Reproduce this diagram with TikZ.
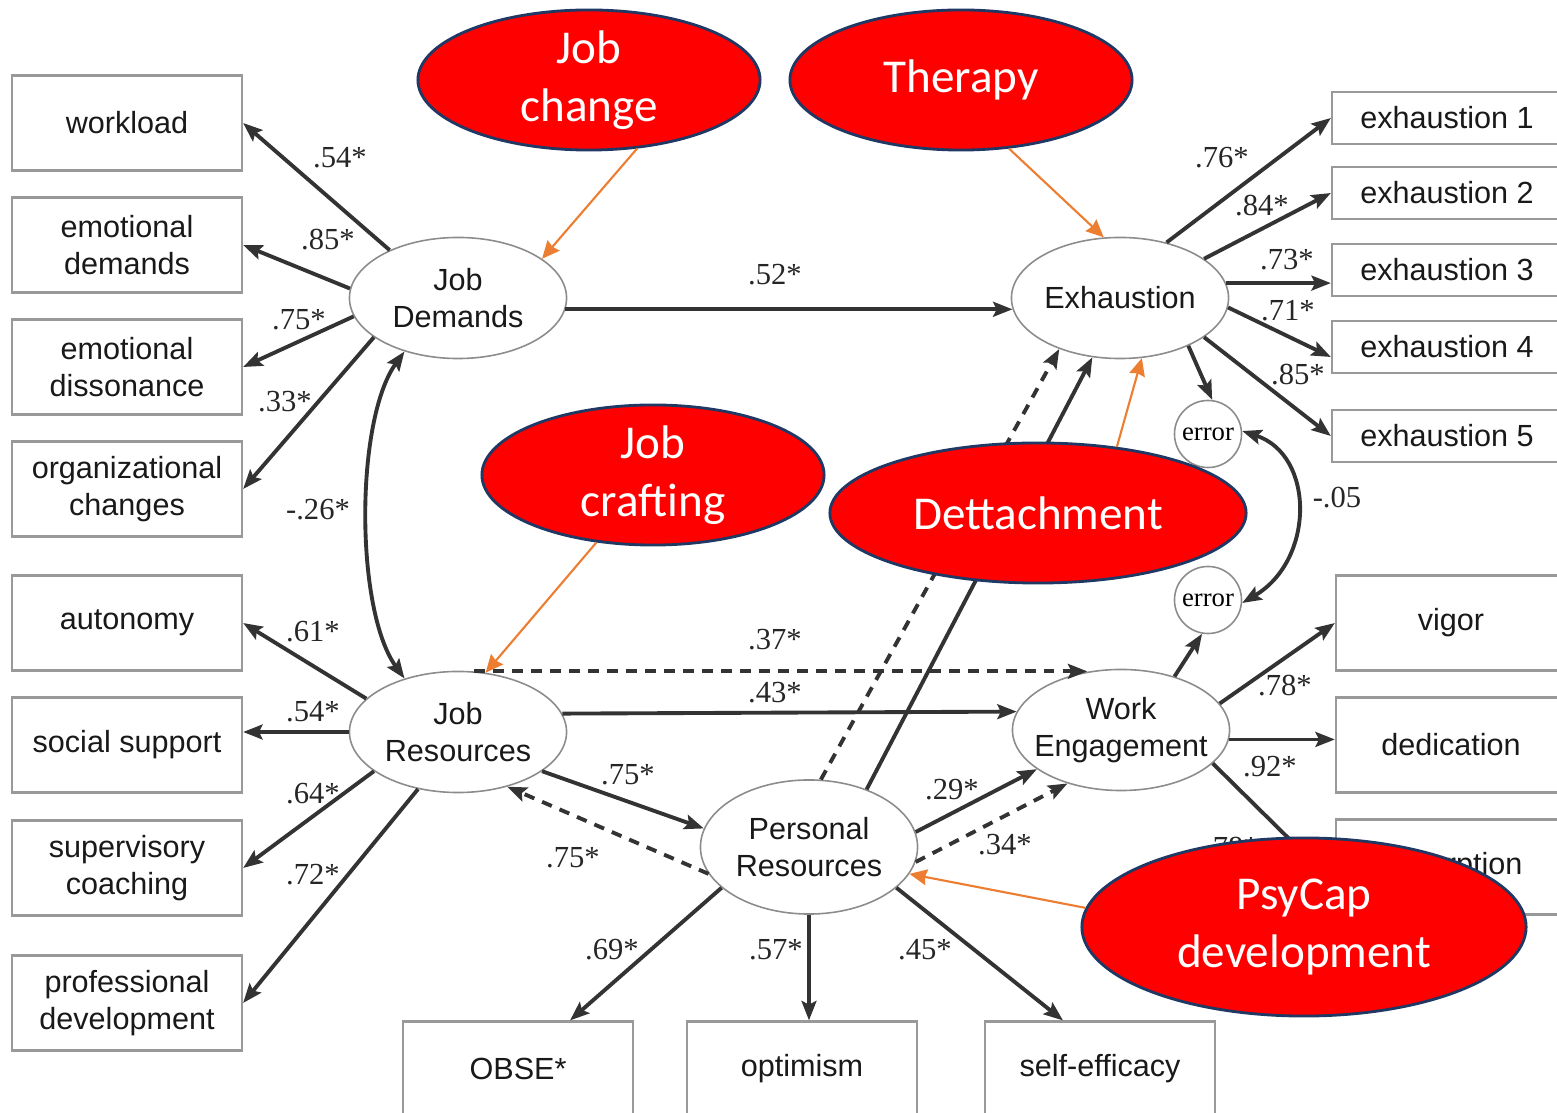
\documentclass[tikz,border=0pt]{standalone}
\usepackage{fontspec}
\setmainfont{Liberation Sans}
\newfontfamily\coeffont{Liberation Serif}
\newfontfamily\ovalfont{Carlito}
\usetikzlibrary{shapes.geometric,arrows.meta}
\definecolor{ink}{HTML}{333333}
\definecolor{navy}{HTML}{1F3864}
\definecolor{orangearr}{HTML}{ED7D31}

\begin{document}
\begin{tikzpicture}[x=0.01cm,y=-0.01cm,
  obsbox/.style={draw=gray!80,line width=0.6pt,minimum width=2.3cm,minimum height=0.95cm,align=center,
    font=\fontsize{8.7}{10.5}\selectfont,text=black!90},
  exbox/.style={obsbox,minimum height=0.52cm},
  latent/.style={ellipse,draw=gray!90,line width=0.45pt,fill=white,minimum width=2.17cm,minimum height=1.21cm,
    inner sep=0pt,align=center,font=\fontsize{8.7}{10.5}\selectfont,text=black!90},
  errnode/.style={circle,draw=gray!90,line width=0.45pt,fill=white,minimum size=0.67cm,inner sep=0pt,
    font=\coeffont\fontsize{7.6}{9}\selectfont},
  redoval/.style={ellipse,draw=navy,line width=0.8pt,fill=red,text=white,inner sep=0pt,align=center,
    font=\ovalfont\fontsize{13.4}{16.4}\selectfont},
  ar/.style={ink,line width=1.1pt,-{Stealth[length=5.5pt,width=4.2pt,inset=1pt]}},
  biar/.style={ar,{Stealth[length=5.5pt,width=4.2pt,inset=1pt]}-{Stealth[length=5.5pt,width=4.2pt,inset=1pt]}},
  dar/.style={ar,dash pattern=on 3pt off 2.4pt},
  oar/.style={orangearr,line width=0.6pt,-{Stealth[length=5pt,width=4.5pt,inset=0.5pt]}},
  coef/.style={font=\coeffont\fontsize{8.7}{10}\selectfont,text=black!85,inner sep=1pt}]
\useasboundingbox (0,0) rectangle (1557,1113);
% Indicators, left
\node[obsbox] (workload) at (127,123) {workload};
\node[obsbox] (emdem) at (127,245) {emotional\\demands};
\node[obsbox] (emdis) at (127,367) {emotional\\dissonance};
\node[obsbox] (orgch) at (127,489) {organizational\\changes};
\node[obsbox] (auto) at (127,623) {autonomy};
\node[obsbox] (socsup) at (127,745) {social support};
\node[obsbox] (supco) at (127,868) {supervisory\\coaching};
\node[obsbox] (profdev) at (127,1003) {professional\\development};
% Indicators, right and bottom
\foreach \i/\py in {1/118,2/193,3/270,4/347,5/436}
  \node[exbox] (ex\i) at (1447,\py) {exhaustion \i};
\node[obsbox] (vigor) at (1451,623) {vigor};
\node[obsbox] (dedic) at (1451,745) {dedication};
\node[obsbox] (absorp) at (1451,867) {absorption};
\node[obsbox] (obse) at (518,1069) {OBSE*};
\node[obsbox] (optim) at (802,1069) {optimism};
\node[obsbox] (selfeff) at (1100,1069) {self-efficacy};
% Latent variables
\node[latent] (jd) at (458,298) {Job\\Demands};
\node[latent] (jr) at (458,732) {Job\\Resources};
\node[latent] (exh) at (1120,298) {Exhaustion};
\node[latent,inner xsep=-0.1cm] (we) at (1121,730) {Work\\Engagement};
\node[latent,minimum height=1.34cm] (pr) at (809,847) {Personal\\Resources};
\node[errnode] (err1) at (1208,434) {error};
\node[errnode] (err2) at (1208,600) {error};
% Loadings
\draw[ar] (jd.145) -- (workload.east);
\draw[ar] (jd.175) -- (emdem.east);
\draw[ar] (jd.-170) -- (emdis.east);
\draw[ar] (jd.-155) -- (orgch.east);
\draw[ar] (jr.160) -- (auto.east);
\draw[ar] (jr.west) -- (jr.west -| socsup.east);
\draw[ar] (jr.-155) -- (supco.east);
\draw[ar] (jr.-125) -- (profdev.east);
\draw[ar] (exh.50) -- (ex1.west);
\draw[ar] (exh.25) -- (ex2.west);
\draw[ar] (exh.8) -- (exh.8 -| ex3.west);
\draw[ar] (exh.-5) -- ([yshift=-0.1cm]ex4.west);
\draw[ar] (exh.-25) -- (ex5.west);
\draw[ar] (we.15) -- (vigor.west);
\draw[ar] (we.-5) -- (we.-5 -| dedic.west);
\draw[ar] (we.-20) -- ([yshift=-0.17cm]absorp.west);
\draw[ar] (pr.-155) -- ([xshift=0.52cm]obse.north);
\draw[ar] (pr.south) -- (pr.south |- optim.north);
\draw[ar] (pr.-25) -- ([xshift=-0.37cm]selfeff.north);
% Structural paths
\draw[ar] (jd.-6) -- (exh.-174);
\draw[biar] (jd.-135) .. controls (355,420) and (355,610) .. (jr.135);
\draw[dar] (jr.75) -- (jr.75 -| we.120);
\draw[ar] (jr.10) -- (we.170);
\draw[ar] (jr.-25) -- (pr.170);
\draw[dar] (pr.-165) -- (jr.-48);
\draw[ar] (pr.8) -- (we.-155);
\draw[dar] (pr.-8) -- (we.-135);
\draw[dar] (pr.80) -- (exh.-140);
\draw[ar] (pr.45) -- (exh.-115);
\draw[ar] (exh.-35) -- (err1.83);
\draw[ar] (we.45) -- (err2.-100);
\draw[biar] (err1.5) .. controls (1315,455) and (1315,560) .. (err2.-5);
% Coefficients
\foreach \txt/\px/\py [count=\i] in {.54*/340/158,.85*/328/240,.75*/299/320,.33*/285/402,-.26*/318/510,
  .52*/775/275,.61*/313/632,.54*/313/712,.64*/313/794,.72*/313/875,.37*/775/640,.43*/775/693,
  .75*/628/775,.75*/573/858,.29*/952/790,.34*/1005/845,.69*/612/950,.57*/776/950,.45*/925/950,
  .76*/1222/158,.84*/1262/206,.73*/1287/260,.71*/1288/311,.85*/1298/375,-.05/1337/498,
  .78*/1285/686,.92*/1270/767,.78*/1232/848}
  \node[coef] (coef\i) at (\px,\py) {\txt};
% Interventions
\node[redoval,minimum width=3.42cm,minimum height=1.4cm] (jobchange) at (589,80) {Job\\change};
\node[redoval,minimum width=3.42cm,minimum height=1.4cm] (therapy) at (961,80) {Therapy};
\node[redoval,minimum width=3.42cm,minimum height=1.4cm] (jobcraft) at (653,475) {Job\\crafting};
\node[redoval,minimum width=4.16cm,minimum height=1.4cm] (detach) at (1038,513) {Dettachment};
\node[redoval,minimum width=4.44cm,minimum height=1.78cm] (psycap) at (1304,927) {PsyCap\\development};
\draw[oar] (jobchange.-55) -- (jd.25);
\draw[oar] (therapy.-55) -- (exh.105);
\draw[oar] (jobcraft.-130) -- (jr.65);
\draw[oar] (detach.40) -- (exh.-70);
\draw[oar] (psycap.175) -- (pr.-15);
\end{tikzpicture}
\end{document}
